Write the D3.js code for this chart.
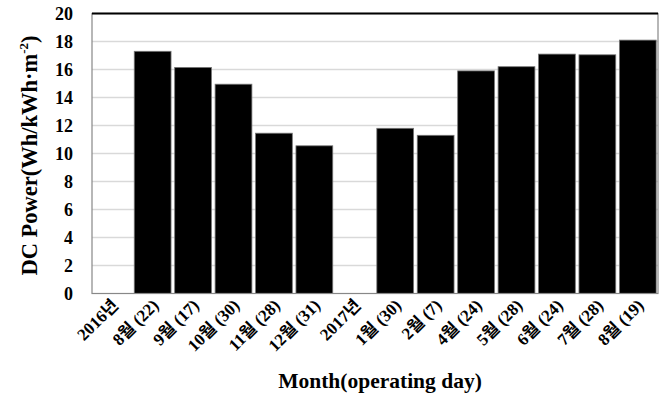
<!DOCTYPE html>
<html>
<head>
<meta charset="utf-8">
<script src="https://cdn.jsdelivr.net/npm/d3@7"></script>
<style>
  body { margin: 0; background: #fff; }
  svg text { font-family: "Liberation Serif", "Times New Roman", "Noto Sans CJK KR", serif; font-weight: bold; fill: #000; }
</style>
</head>
<body>
<svg id="chart" width="666" height="399"></svg>
<script>
const categories = ["2016년", "8월(22)", "9월(17)", "10월(30)", "11월(28)", "12월(31)",
                    "2017년", "1월(30)", "2월(7)", "4월(24)", "5월(28)", "6월(24)", "7월(28)", "8월(19)"];
const power = [null, 17.3, 16.15, 14.95, 11.45, 10.55, null, 11.8, 11.3, 15.9, 16.2, 17.1, 17.05, 18.1];
const yTicks = [0, 2, 4, 6, 8, 10, 12, 14, 16, 18, 20];

const svg = d3.select("#chart");
const margin = {left: 92, right: 8, top: 13.5, bottom: 105.5};
const width = 666, height = 399;

const x = d3.scaleBand()
    .domain(categories)
    .range([margin.left, width - margin.right])
    .paddingInner(0.09)
    .paddingOuter(0.045);

const y = d3.scaleLinear()
    .domain([0, 20])
    .range([height - margin.bottom, margin.top]);

// gridlines
svg.append("g")
    .selectAll("line")
    .data(yTicks.slice(1, -1))
    .enter()
    .append("line")
    .attr("x1", margin.left)
    .attr("x2", width - margin.right)
    .attr("y1", d => y(d))
    .attr("y2", d => y(d))
    .attr("stroke", "#d9d9d9")
    .attr("stroke-width", 1.5);

// bars
svg.append("g")
    .selectAll("rect")
    .data(categories.map((c, i) => ({c, v: power[i]})).filter(d => d.v != null))
    .enter()
    .append("rect")
    .attr("x", d => x(d.c))
    .attr("y", d => y(d.v))
    .attr("width", x.bandwidth())
    .attr("height", d => y(0) - y(d.v))
    .attr("fill", "#000")
    .attr("stroke", "#777")
    .attr("stroke-width", 0.8);

// plot frame
svg.append("rect")
    .attr("x", margin.left)
    .attr("y", margin.top)
    .attr("width", width - margin.right - margin.left)
    .attr("height", y(0) - margin.top)
    .attr("fill", "none")
    .attr("stroke", "#888")
    .attr("stroke-width", 1.2);
svg.append("line")
    .attr("x1", margin.left).attr("x2", width - margin.right)
    .attr("y1", margin.top).attr("y2", margin.top)
    .attr("stroke", "#000").attr("stroke-width", 2);

// y axis labels
svg.append("g")
    .selectAll("text")
    .data(yTicks)
    .enter()
    .append("text")
    .attr("x", 73)
    .attr("y", d => y(d))
    .attr("dy", "0.35em")
    .attr("text-anchor", "end")
    .attr("font-size", 18)
    .text(d => d);

// x axis labels
svg.append("g")
    .selectAll("text")
    .data(categories)
    .enter()
    .append("text")
    .attr("font-size", 17)
    .attr("text-anchor", "end")
    .attr("transform", d => `translate(${x(d) + x.bandwidth() / 2 + 7},${y(0) + 13}) rotate(-45)`)
    .text(d => d.replace("월(", "월 ("));

// axis titles
svg.append("text")
    .attr("x", 380)
    .attr("y", 388)
    .attr("text-anchor", "middle")
    .attr("font-size", 21.5)
    .text("Month(operating day)");

const yt = svg.append("text")
    .attr("transform", `translate(37,${(margin.top + y(0)) / 2 + 2}) rotate(-90)`)
    .attr("text-anchor", "middle")
    .attr("font-size", 22.5);
yt.append("tspan").text("DC Power(Wh/kWh·m");
yt.append("tspan").attr("font-size", 13).attr("dy", -9).text("-2");
yt.append("tspan").attr("dy", 9).text(")");
</script>
</body>
</html>
